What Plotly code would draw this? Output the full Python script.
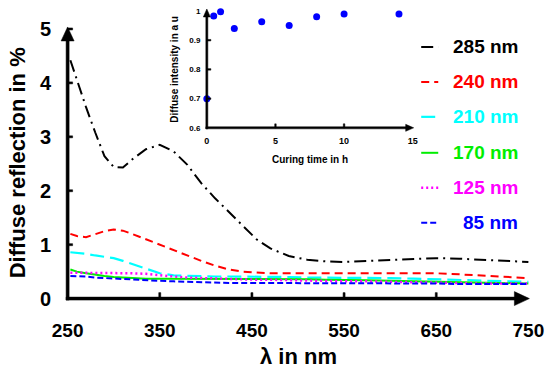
import plotly.graph_objects as go

# ---------------- data ----------------
wavelength = [253, 260, 270, 280, 290, 300, 310, 320, 335, 350, 365, 380, 395, 410, 425,
              440, 455, 470, 490, 510, 530, 550, 575, 600, 625, 650, 675, 700, 725, 750]
r285 = [4.42, 4.05, 3.55, 3.08, 2.64, 2.44, 2.43, 2.58, 2.77, 2.85, 2.73, 2.48, 2.14, 1.86, 1.61,
        1.36, 1.10, 0.93, 0.79, 0.72, 0.69, 0.68, 0.70, 0.72, 0.73, 0.75, 0.74, 0.72, 0.70, 0.68]
r240 = [1.20, 1.16, 1.14, 1.19, 1.25, 1.28, 1.26, 1.20, 1.10, 0.99, 0.89, 0.79, 0.70, 0.61, 0.54,
        0.50, 0.48, 0.47, 0.47, 0.47, 0.48, 0.48, 0.48, 0.48, 0.48, 0.47, 0.45, 0.43, 0.41, 0.38]
r210 = [0.86, 0.85, 0.83, 0.80, 0.78, 0.75, 0.70, 0.64, 0.55, 0.47, 0.43, 0.42, 0.41, 0.41, 0.41,
        0.41, 0.41, 0.40, 0.40, 0.39, 0.39, 0.39, 0.38, 0.38, 0.37, 0.36, 0.35, 0.34, 0.33, 0.31]
r170 = [0.54, 0.50, 0.47, 0.44, 0.42, 0.40, 0.39, 0.38, 0.37, 0.37, 0.37, 0.37, 0.37, 0.37, 0.37,
        0.37, 0.37, 0.37, 0.36, 0.36, 0.35, 0.35, 0.34, 0.33, 0.32, 0.31, 0.30, 0.29, 0.29, 0.28]
r125 = [0.48, 0.48, 0.48, 0.48, 0.48, 0.48, 0.48, 0.47, 0.46, 0.43, 0.41, 0.39, 0.38, 0.37, 0.36,
        0.35, 0.35, 0.35, 0.34, 0.34, 0.33, 0.32, 0.32, 0.31, 0.30, 0.29, 0.29, 0.28, 0.28, 0.28]
r85 = [0.42, 0.42, 0.41, 0.39, 0.38, 0.37, 0.36, 0.35, 0.34, 0.33, 0.32, 0.31, 0.30, 0.30, 0.29,
       0.29, 0.29, 0.29, 0.29, 0.29, 0.28, 0.28, 0.28, 0.28, 0.28, 0.28, 0.27, 0.27, 0.27, 0.27]

series_names = ["285 nm", "240 nm", "210 nm", "170 nm", "125 nm", "85 nm"]
series_values = [r285, r240, r210, r170, r125, r85]

x_ticks = [250, 350, 450, 550, 650, 750]
y_ticks = [0, 1, 2, 3, 4, 5]

curing_time = [0, 0.5, 1, 2, 4, 6, 8, 10, 14]
diffuse_intensity = [0.70, 0.983, 0.997, 0.94, 0.963, 0.95, 0.98, 0.99, 0.99]
inset_x_ticks = [0, 5, 10, 15]
inset_y_ticks = [0.6, 0.7, 0.8, 0.9, 1.0]
inset_y_ticktext = ["0.6", "0.7", "0.8", "0.9", "1"]

# ---------------- styles / layout geometry ----------------
colors = ["#000000", "#ff0000", "#00ffff", "#00ee00", "#ff00ff", "#0000ff"]
dashes = ["12px,5px,2px,5px", "8px,5px", "14px,6px", "solid", "2px,3px", "6px,3px"]
widths = [2, 2, 2.2, 2, 2.5, 2]
FONT = "Liberation Sans, Arial, sans-serif"

W, H = 550, 373
# main axes: 250 nm -> px 68, 100 nm = 92 px ; y 0 -> px 299, 1 unit = 54 px
XR = [245, 755]
YR = [-0.1, 5.1]
SX, SY = 0.92, 54.0
X250_PX, Y0_PX = 68, 299
ML = X250_PX - (250 - XR[0]) * SX
PW = (XR[1] - XR[0]) * SX
MR = W - ML - PW
MB = H - (Y0_PX + (0 - YR[0]) * SY)
MT = 2
PH = H - MT - MB


def clamp(v):
    return max(0.0, min(1.0, v))


def px2paper_x(px):
    return (px - ML) / PW


def px2paper_y(py):
    return (H - MB - py) / PH


def data2px_x(v):
    return X250_PX + (v - 250) * SX


def data2px_y(v):
    return Y0_PX - v * SY


main_top_px = data2px_y(YR[1])

# inset: 0 h -> px 207, 1 h = 13.7 px ; 0.6 -> px 128, 0.1 = 29.25 px
IXR = [-0.4, 15.4]
IYR = [0.58, 1.02]
ISX, ISY = 13.7, 292.5
IX0_PX, IY0_PX = 207, 128


def idata2px_x(v):
    return IX0_PX + v * ISX


def idata2px_y(v):
    return IY0_PX - (v - 0.6) * ISY


fig = go.Figure()

for name, vals, c, d, w in zip(series_names, series_values, colors, dashes, widths):
    fig.add_trace(go.Scatter(x=wavelength, y=vals, mode="lines", name=name,
                             line=dict(color=c, dash=d, width=w),
                             xaxis="x", yaxis="y", showlegend=False))

fig.add_trace(go.Scatter(x=curing_time, y=diffuse_intensity, mode="markers",
                         marker=dict(color="#0000ff", size=7), cliponaxis=False,
                         xaxis="x2", yaxis="y2", showlegend=False))

INVIS = "rgba(0,0,0,0)"
inset_x_dom = [clamp(px2paper_x(idata2px_x(IXR[0]))), clamp(px2paper_x(idata2px_x(IXR[1])))]
inset_y_dom = [clamp(px2paper_y(idata2px_y(IYR[0]))), clamp(px2paper_y(idata2px_y(IYR[1])))]
fig.update_layout(
    width=W, height=H,
    margin=dict(l=ML, r=MR, t=MT, b=MB, autoexpand=False),
    paper_bgcolor="white", plot_bgcolor="rgba(0,0,0,0)",
    font=dict(family=FONT, color="black"),
    xaxis=dict(range=XR, domain=[0, 1], anchor="y", automargin=False,
               showline=False, ticks="outside", ticklen=9, tickcolor=INVIS,
               tickvals=x_ticks, showgrid=False, zeroline=False,
               tickfont=dict(size=19, weight="bold", family=FONT)),
    yaxis=dict(range=YR, domain=[0, clamp(px2paper_y(main_top_px))], anchor="x",
               automargin=False,
               showline=False, ticks="outside", ticklen=7, tickcolor=INVIS,
               tickvals=y_ticks, showgrid=False, zeroline=False,
               tickfont=dict(size=20, weight="bold", family=FONT)),
    xaxis2=dict(range=IXR, domain=inset_x_dom, anchor="y2", automargin=False,
                showline=False, ticks="", showgrid=False, zeroline=False,
                tickvals=inset_x_ticks,
                tickfont=dict(size=9, weight="bold", family=FONT)),
    yaxis2=dict(range=IYR, domain=inset_y_dom, anchor="x2", automargin=False,
                showline=False, ticks="", showgrid=False, zeroline=False,
                tickvals=inset_y_ticks, ticktext=inset_y_ticktext,
                tickfont=dict(size=8, weight="bold", family=FONT)),
)

shapes = []


def poly(pts):
    p = "M " + " L ".join(f"{px2paper_x(a):.5f} {px2paper_y(b):.5f}" for a, b in pts) + " Z"
    shapes.append(dict(type="path", xref="paper", yref="paper", layer="above", path=p,
                       fillcolor="black", line=dict(color="black", width=0.5)))


def bar(x0, y0, x1, y1):
    poly([(x0, y0), (x1, y0), (x1, y1), (x0, y1)])


# main axes: lines, inside ticks, arrowheads
X1_PX = data2px_x(750)
bar(X250_PX - 1.5, 40, X250_PX + 1.5, Y0_PX + 1.5)
bar(X250_PX - 1.5, Y0_PX - 1.5, 515, Y0_PX + 1.5)
for v in x_ticks[1:-1]:
    px = data2px_x(v)
    bar(px - 1, Y0_PX - 6, px + 1, Y0_PX)
for v in y_ticks[1:]:
    py = data2px_y(v)
    bar(X250_PX, py - 1, X250_PX + 5, py + 1)
poly([(X250_PX - 6.5, 41), (X250_PX + 6.5, 41), (X250_PX, 27)])
poly([(514, Y0_PX - 7), (514, Y0_PX + 7), (X1_PX + 1, Y0_PX)])

# inset axes
IX1_PX, IY1_PX = idata2px_x(15), idata2px_y(1.0)
bar(IX0_PX - 1, IY1_PX + 5, IX0_PX + 1, IY0_PX + 1)
bar(IX0_PX - 1, IY0_PX - 1, IX1_PX - 6, IY0_PX + 1)
for v in inset_x_ticks[1:-1]:
    px = idata2px_x(v)
    bar(px - 0.75, IY0_PX - 4, px + 0.75, IY0_PX)
for v in inset_y_ticks[1:-1]:
    py = idata2px_y(v)
    bar(IX0_PX, py - 0.75, IX0_PX + 4, py + 0.75)
poly([(IX0_PX - 3.5, IY1_PX + 6), (IX0_PX + 3.5, IY1_PX + 6), (IX0_PX, IY1_PX - 2)])
poly([(IX1_PX - 7, IY0_PX - 3.5), (IX1_PX - 7, IY0_PX + 3.5), (IX1_PX + 1, IY0_PX)])

annotations = []
legend_rows = [47, 82, 117, 153, 188, 223]
for name, c, d, w, py in zip(series_names, colors, dashes, widths, legend_rows):
    shapes.append(dict(type="line", xref="paper", yref="paper",
                       x0=px2paper_x(421), x1=px2paper_x(438),
                       y0=px2paper_y(py), y1=px2paper_y(py),
                       line=dict(color=c, dash=d, width=w)))
    annotations.append(dict(text=name, xref="paper", yref="paper",
                            x=px2paper_x(520), y=px2paper_y(py),
                            xanchor="right", yanchor="middle", showarrow=False,
                            font=dict(size=19, color=c, weight="bold", family=FONT)))

# axis titles
annotations.append(dict(text="Diffuse reflection in %", xref="paper", yref="paper",
                        x=px2paper_x(18), y=px2paper_y(163), textangle=-90,
                        xanchor="center", yanchor="middle", showarrow=False,
                        font=dict(size=22, weight="bold", family=FONT)))
annotations.append(dict(text="λ in nm", xref="paper", yref="paper",
                        x=px2paper_x(298), y=px2paper_y(357),
                        xanchor="center", yanchor="middle", showarrow=False,
                        font=dict(size=22, weight="bold", family=FONT)))
annotations.append(dict(text="Curing time in h", xref="paper", yref="paper",
                        x=px2paper_x(310), y=px2paper_y(160),
                        xanchor="center", yanchor="middle", showarrow=False,
                        font=dict(size=10, weight="bold", family=FONT)))
annotations.append(dict(text="Diffuse intensity in a u", xref="paper", yref="paper",
                        x=px2paper_x(175), y=px2paper_y(69), textangle=-90,
                        xanchor="center", yanchor="middle", showarrow=False,
                        font=dict(size=10, weight="bold", family=FONT)))

fig.update_layout(shapes=shapes, annotations=annotations)
fig.write_html("out.html", config={"displayModeBar": False},
               post_script="document.body.style.margin='0';document.body.style.overflow='hidden';")
